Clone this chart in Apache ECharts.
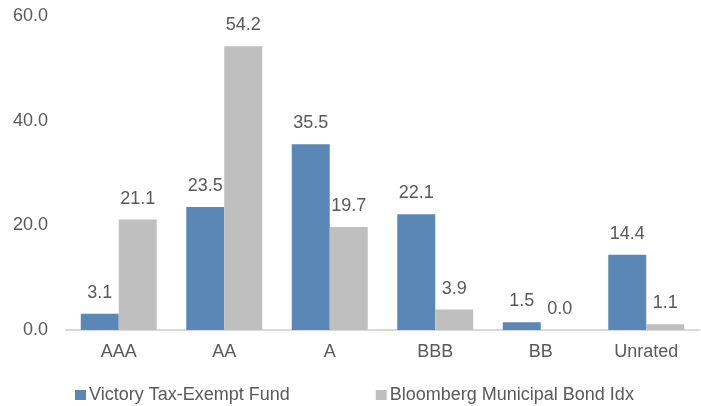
<!DOCTYPE html>
<html>
<head>
<meta charset="utf-8">
<script src="https://cdn.jsdelivr.net/npm/echarts@6/dist/echarts.min.js"></script>
<style>
  html, body { margin: 0; padding: 0; background: #fff; }
  #main { width: 701px; height: 406px; }
</style>
</head>
<body>
<div id="main"></div>
<script>
var categories = ["AAA", "AA", "A", "BBB", "BB", "Unrated"];
var fundValues = [3.1, 23.5, 35.5, 22.1, 1.5, 14.4];
var indexValues = [21.1, 54.2, 19.7, 3.9, 0.0, 1.1];
var seriesNames = ["Victory Tax-Exempt Fund", "Bloomberg Municipal Bond Idx"];

var textColor = "#595959";
var font = "Liberation Sans, Arial, sans-serif";
var fs = 18;

var myChart = echarts.init(document.getElementById("main"));
var labelStyle = {
  show: true,
  position: "top",
  distance: 12,
  color: textColor,
  fontSize: fs,
  fontFamily: font,
  formatter: function (p) { return p.value.toFixed(1); }
};
myChart.setOption({
  animation: false,
  grid: { left: 66, right: 2, top: 16, bottom: 76 },
  legend: {
    data: seriesNames,
    left: 75,
    top: 386,
    padding: 0,
    itemWidth: 11,
    itemHeight: 10,
    itemGap: 86,
    icon: "rect",
    textStyle: { color: textColor, fontSize: fs, fontFamily: font, padding: [0, 0, 0, -2] }
  },
  xAxis: {
    type: "category",
    data: categories,
    axisLine: { lineStyle: { color: "#d9d9d9", width: 2 } },
    axisTick: { show: false },
    axisLabel: { color: textColor, fontSize: fs, fontFamily: font, margin: 13 }
  },
  yAxis: {
    type: "value",
    min: 0,
    max: 60,
    interval: 20,
    splitLine: { show: false },
    axisLine: { show: false },
    axisTick: { show: false },
    axisLabel: {
      color: textColor, fontSize: fs, fontFamily: font, margin: 18,
      formatter: function (v) { return v.toFixed(1); }
    }
  },
  series: [
    {
      name: seriesNames[0],
      type: "bar",
      data: fundValues,
      barGap: "0%",
      barCategoryGap: "28%",
      itemStyle: { color: "#5b87b6" },
      label: labelStyle
    },
    {
      name: seriesNames[1],
      type: "bar",
      data: indexValues,
      itemStyle: { color: "#bfbfbf" },
      label: labelStyle
    }
  ]
});
</script>
</body>
</html>
